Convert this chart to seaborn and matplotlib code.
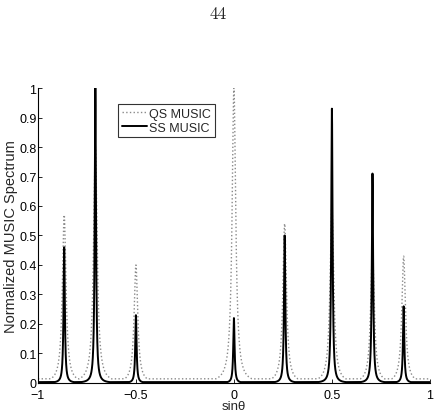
import numpy as np
import matplotlib
matplotlib.use("Agg")
import matplotlib.pyplot as plt
import seaborn as sns

# peak locations (sin theta) and normalized heights
peak_pos = [-0.866, -0.707, -0.5, 0.0, 0.259, 0.5, 0.707, 0.866]
qs_height = [0.57, 0.80, 0.40, 1.00, 0.54, 0.60, 0.45, 0.43]
ss_height = [0.46, 1.00, 0.23, 0.22, 0.50, 0.93, 0.71, 0.26]
qs_width = 0.011
ss_width = 0.004
qs_floor = 0.014
ss_floor = 0.003

x_ticks = [-1, -0.5, 0, 0.5, 1]
x_ticklabels = ["\u22121", "\u22120.5", "0", "0.5", "1"]
y_ticks = [0, 0.1, 0.2, 0.3, 0.4, 0.5, 0.6, 0.7, 0.8, 0.9, 1]
y_ticklabels = ["0", "0.1", "0.2", "0.3", "0.4", "0.5", "0.6", "0.7", "0.8", "0.9", "1"]


def spectrum(grid, heights, width, floor):
    out = np.full_like(grid, floor)
    for p, h in zip(peak_pos, heights):
        out = np.maximum(out, h * width**2 / ((grid - p) ** 2 + width**2))
    return out


grid = np.linspace(-1, 1, 8001)
qs = spectrum(grid, qs_height, qs_width, qs_floor)
ss = spectrum(grid, ss_height, ss_width, ss_floor)

sns.set_style("ticks")
plt.rcParams["font.family"] = ["Liberation Sans", "DejaVu Sans"]

fig = plt.figure(figsize=(4.36, 4.14), dpi=100)
ax = fig.add_axes([0.087, 0.0725, 0.899, 0.7125])

sns.lineplot(x=grid, y=qs, ax=ax, color="#8a8a8a", linewidth=1.0,
             linestyle=":", estimator=None, label="QS MUSIC")
sns.lineplot(x=grid, y=ss, ax=ax, color="black", linewidth=1.4,
             estimator=None, label="SS MUSIC")

ax.set_xlim(-1, 1)
ax.set_ylim(0, 1)
ax.set_xticks(x_ticks)
ax.set_xticklabels(x_ticklabels)
ax.set_yticks(y_ticks)
ax.set_yticklabels(y_ticklabels)
ax.tick_params(direction="in", length=3, width=0.6, labelsize=9, colors="black")
ax.tick_params(axis="y", pad=1)
ax.tick_params(axis="x", pad=4.5)
sns.despine(ax=ax)
for s in ["left", "bottom"]:
    ax.spines[s].set_linewidth(0.8)
    ax.spines[s].set_color("black")

ax.set_xlabel("sin\u03b8", fontsize=9.5, labelpad=-1)
ax.set_ylabel("Normalized MUSIC Spectrum", fontsize=10.5, labelpad=1)

leg = ax.legend(loc="upper left", bbox_to_anchor=(0.204, 0.946), borderaxespad=0,
                fontsize=9, frameon=True, fancybox=False, handlelength=2.0,
                handletextpad=0.2, borderpad=0.3, labelspacing=0.15)
leg.get_frame().set_edgecolor("black")
leg.get_frame().set_linewidth(0.8)

fig.text(0.5, 0.965, "44", ha="center", va="center", fontsize=12.5, family="cmr10")

fig.savefig("out.png", dpi=100)
